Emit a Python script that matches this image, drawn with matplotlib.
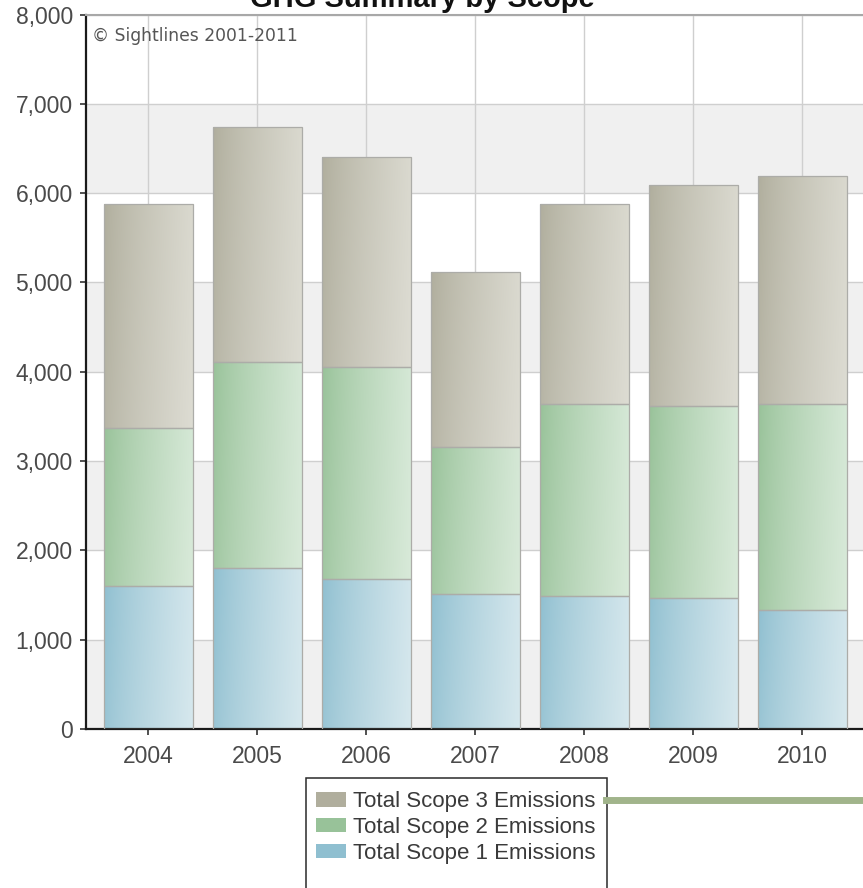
"""GHG summary by scope, stacked bars with soft gradients."""
import numpy as np
import matplotlib

matplotlib.use("Agg")
from matplotlib import pyplot as plt
from matplotlib.patches import Rectangle
from matplotlib.lines import Line2D
from matplotlib.ticker import FuncFormatter

years = ["2004", "2005", "2006", "2007", "2008", "2009", "2010"]
scope1 = [1600, 1800, 1680, 1510, 1490, 1465, 1335]
scope2 = [1770, 2315, 2375, 1650, 2150, 2150, 2310]
scope3 = [2510, 2625, 2345, 1955, 2240, 2475, 2545]
series_names = ["Total Scope 1 Emissions", "Total Scope 2 Emissions",
                "Total Scope 3 Emissions"]

# (left colour, right colour) of each gradient
GRADS = [
    ("#8fbfd0", "#d3e6ec"),
    ("#98c299", "#d5e8d6"),
    ("#b0ae9d", "#dad9cf"),
]
W, H = 863, 888
plt.rcParams["font.family"] = ["Liberation Sans", "DejaVu Sans"]


def gradient(left, right, nx=64, ny=32):
    c0 = np.array(matplotlib.colors.to_rgb(left))
    c1 = np.array(matplotlib.colors.to_rgb(right))
    tx = np.linspace(0, 1, nx) ** 0.8
    ty = np.linspace(0.08, 0.0, ny)[:, None, None]  # slightly lighter at top
    img = c0 + (c1 - c0) * tx[None, :, None]
    img = img + (1 - img) * ty
    return np.clip(img, 0, 1)


fig = plt.figure(figsize=(W / 100, H / 100), dpi=100)
x_left = (86 - 148.3) / 109
x_right = (W - 148.3) / 109
ax = fig.add_axes([86 / W, (H - 729) / H, 1 - 86 / W, (729 - 14.6) / H])

x = np.arange(len(years))
bw = 0.82
ymax = 8000
ticks = np.arange(0, ymax + 1, 1000)

# alternating bands
for lo in ticks[:-1:2]:
    ax.axhspan(lo, lo + 1000, color="#f0f0f0", zorder=0, lw=0)
ax.set_yticks(ticks)
ax.set_xticks(x)
ax.grid(True, color="#cfcfcf", lw=1.0, zorder=0.5)
ax.set_axisbelow(True)

bottom = np.zeros(len(years))
for vals, (c_l, c_r) in zip([scope1, scope2, scope3], GRADS):
    bars = ax.bar(x, vals, bw, bottom=bottom, color=c_r, edgecolor="none",
                  zorder=2)
    for rect in bars:
        x0, y0 = rect.get_x(), rect.get_y()
        im = ax.imshow(gradient(c_l, c_r),
                       extent=[x0, x0 + rect.get_width(), y0, y0 + rect.get_height()],
                       aspect="auto", origin="lower", zorder=2.5,
                       interpolation="bilinear")
        im.set_clip_path(rect)
    ax.bar(x, vals, bw, bottom=bottom, facecolor="none", edgecolor="#acaca8",
           lw=0.9, zorder=3)
    bottom += np.array(vals)

ax.set_xlim(x_left, x_right)
ax.set_ylim(0, ymax)
ax.set_xticklabels(years)
ax.yaxis.set_major_formatter(FuncFormatter(lambda v, p: f"{int(v):,}"))
ax.tick_params(axis="both", labelsize=16.5, labelcolor="#4a4a4a",
               color="#222222", length=4.5, width=1.1)
ax.tick_params(axis="y", pad=5)
ax.tick_params(axis="x", pad=7)
ax.spines["right"].set_visible(False)
ax.spines["top"].set_color("#a8a8a8")
ax.spines["top"].set_linewidth(1.5)
for side in ["left", "bottom"]:
    ax.spines[side].set_color("#1a1a1a")
    ax.spines[side].set_linewidth(1.6)

fig.text(92 / W, 1 - 36 / H, "\u00a9 Sightlines 2001-2011", fontsize=12.3,
         color="#555555", family=["DejaVu Sans"], va="center", ha="left")

# the title runs off the top edge, as in the source picture
fig.text(422 / W, 1 - 7 / H, "GHG Summary by Scope", fontsize=21,
         fontweight="bold", color="#111111", ha="center", va="baseline")

# legend box (runs off the bottom of the picture)
fig.patches.append(Rectangle((306 / W, -0.05), (607 - 306) / W,
                             0.05 + (H - 778) / H, transform=fig.transFigure,
                             facecolor="white", edgecolor="#2a2a2a", lw=1.1))
handles = [Rectangle((0, 0), 1, 1, facecolor=g[0], edgecolor="none")
           for g in GRADS[::-1]]
fig.legend(handles, series_names[::-1], loc="upper left",
           bbox_to_anchor=(303 / W, 1 - 778 / H), frameon=False,
           fontsize=16, labelcolor="#3a3a3a", handlelength=1.35,
           handleheight=0.6, handletextpad=0.32, labelspacing=0.22,
           borderpad=0.1)

fig.lines.append(Line2D([606 / W, 1.0], [1 - 800 / H, 1 - 800 / H],
                        transform=fig.transFigure, color="#a1b48b", lw=5))

fig.savefig("out.png", dpi=100)
